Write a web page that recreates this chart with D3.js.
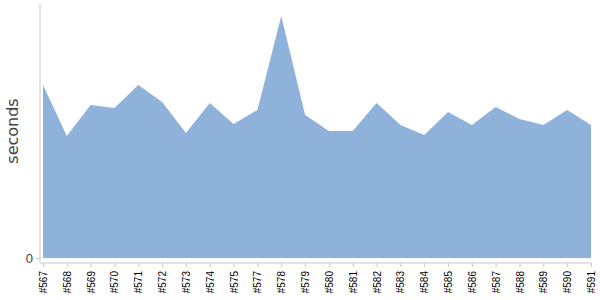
<!DOCTYPE html>
<html>
<head>
<meta charset="utf-8">
<script src="https://cdn.jsdelivr.net/npm/d3@7"></script>
<style>
	body { margin: 0; background: #fff; }
	svg { display: block; font-family: "DejaVu Sans", Verdana, sans-serif; }
	.axis path, .axis line { stroke: #c8c8c8; }
</style>
</head>
<body>
<div id="chart"></div>
<script>
var builds = ["#567", "#568", "#569", "#570", "#571", "#572", "#573", "#574", "#575", "#577",
	"#578", "#579", "#580", "#581", "#582", "#583", "#584", "#585", "#586", "#587",
	"#588", "#589", "#590", "#591"];
var seconds = [173, 122, 153, 150, 173, 156, 125, 155, 134, 148,
	242, 143, 127, 127, 155, 133, 123, 146, 133, 151,
	139, 133, 148, 133];
var yTicks = [0];

var width = 600, height = 300;
var svg = d3.select("#chart").append("svg")
	.attr("width", width)
	.attr("height", height);

var x = d3.scalePoint()
	.domain(builds)
	.range([43, 591]);

var y = d3.scaleLinear()
	.domain([0, 254])
	.range([258, 4]);

var area = d3.area()
	.x(function (d, i) { return x(builds[i]); })
	.y0(y(0))
	.y1(function (d) { return y(d); });

svg.append("path")
	.datum(seconds)
	.attr("d", area)
	.attr("fill", "#8fb2da");

//y轴
var yAxis = svg.append("g")
	.attr("class", "axis")
	.attr("transform", "translate(40,0)")
	.call(d3.axisLeft(y).tickValues(yTicks).tickSize(4).tickSizeOuter(0));
yAxis.select(".domain").attr("d", "M0,4V263");
yAxis.selectAll("text")
	.attr("fill", "#444")
	.style("font-size", "13px");

//x轴
var xAxis = svg.append("g")
	.attr("class", "axis")
	.attr("transform", "translate(0,263)")
	.call(d3.axisBottom(x).tickSize(4).tickSizeOuter(0));
xAxis.select(".domain").attr("d", "M40,0H591");
xAxis.selectAll("text")
	.attr("fill", "#000")
	.style("font-size", "10px")
	.attr("transform", "rotate(-90)")
	.attr("text-anchor", "end")
	.attr("x", -8)
	.attr("y", 0)
	.attr("dy", "0.35em");

svg.append("text")
	.attr("transform", "translate(18,131) rotate(-90)")
	.attr("text-anchor", "middle")
	.attr("fill", "#444")
	.style("font-size", "16px")
	.text("seconds");
</script>
</body>
</html>
